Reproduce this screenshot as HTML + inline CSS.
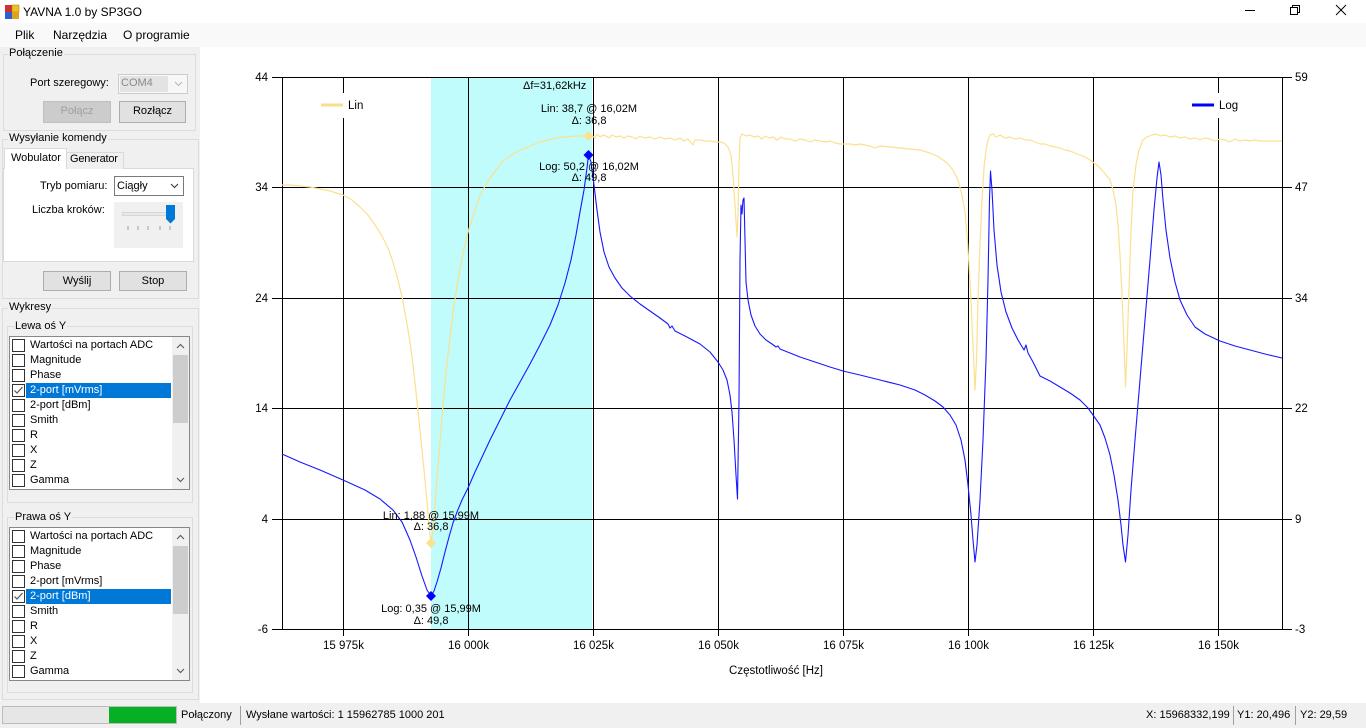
<!DOCTYPE html>
<html><head><meta charset="utf-8"><title>YAVNA 1.0 by SP3GO</title>
<style>
*{margin:0;padding:0;box-sizing:border-box}
html,body{width:1366px;height:728px;overflow:hidden}
body{position:relative;background:#f0f0f0;font-family:"Liberation Sans",Arial,sans-serif;font-size:11px;color:#000}
.t{position:absolute;white-space:nowrap;line-height:13px}
.grp{position:absolute;border:1px solid #dcdcdc}
.gl{position:absolute;background:#f0f0f0;padding:0 1px;line-height:13px;white-space:nowrap}
.btn{position:absolute;background:#e1e1e1;border:1px solid #adadad;text-align:center;line-height:19px}
.lb{position:absolute;left:9px;background:#fff;border:1px solid #828790;width:181px;height:154px}
.it{position:absolute;left:0;width:162px;height:15px;line-height:15px}
.cb{position:absolute;left:2px;top:1px;width:13px;height:13px;border:1px solid #333;background:#fff}
.it .tx{position:absolute;left:20px;top:0;white-space:nowrap}
.sel{position:absolute;left:16px;top:0;width:145px;height:15px;background:#0078d7}
.sb{position:absolute;left:162px;top:0;width:17px;height:152px;background:#f0f0f0}
.th{position:absolute;left:1px;top:18px;width:15px;height:68px;background:#cdcdcd}
</style></head><body>

<!-- title bar -->
<div style="position:absolute;left:0;top:0;width:1366px;height:23px;background:#fff"></div>
<svg style="position:absolute;left:4px;top:4px" width="16" height="16">
<rect x="1" y="1" width="7" height="7" fill="#d03030"/><rect x="8" y="1" width="7" height="7" fill="#f0c020" stroke="#a08010" stroke-width="0.5"/>
<rect x="1" y="8" width="7" height="7" fill="#3060d0"/><rect x="8" y="8" width="7" height="7" fill="#e0a020"/>
</svg>
<div class="t" style="left:23px;top:5px;font-size:12px;line-height:14px">YAVNA 1.0 by SP3GO</div>
<svg style="position:absolute;left:1240px;top:0" width="126" height="23">
<line x1="5" y1="10.5" x2="15" y2="10.5" stroke="#000" stroke-width="1"/>
<rect x="50.5" y="7.5" width="7" height="7" fill="none" stroke="#000"/>
<polyline points="52.5,7.5 52.5,5.5 59.5,5.5 59.5,12.5 57.5,12.5" fill="none" stroke="#000"/>
<line x1="96" y1="5" x2="106" y2="15" stroke="#000"/><line x1="106" y1="5" x2="96" y2="15" stroke="#000"/>
</svg>

<!-- menu -->
<div style="position:absolute;left:0;top:23px;width:1366px;height:24px;background:#f9f9f9"></div>
<div class="t" style="left:15px;top:28px;font-size:12px;line-height:14px">Plik</div>
<div class="t" style="left:53px;top:28px;font-size:12px;line-height:14px">Narzędzia</div>
<div class="t" style="left:123px;top:28px;font-size:12px;line-height:14px">O programie</div>

<!-- chart panel -->
<div style="position:absolute;left:200px;top:47px;width:1166px;height:656px;background:#fff"></div>

<!-- Połączenie -->
<div class="grp" style="left:3px;top:54px;width:193px;height:77px"></div>
<div class="gl" style="left:8px;top:47px">Połączenie</div>
<div class="t" style="left:30px;top:77px">Port szeregowy:</div>
<div style="position:absolute;left:118px;top:74px;width:70px;height:20px;background:#f7f7f7;border:1px solid #cccccc"></div>
<div style="position:absolute;left:120px;top:76px;width:48px;height:16px;background:#e3e3e3"></div>
<div class="t" style="left:121px;top:77px;color:#8a8a8a">COM4</div>
<svg style="position:absolute;left:174px;top:80px" width="10" height="8"><polyline points="1,2 4.5,5.5 8,2" fill="none" stroke="#b5b5b5"/></svg>
<div class="btn" style="left:43px;top:101px;width:68px;height:22px;background:#cccccc;border-color:#bfbfbf;color:#a0a0a0">Połącz</div>
<div class="btn" style="left:119px;top:101px;width:67px;height:22px">Rozłącz</div>

<!-- Wysyłanie komendy -->
<div class="grp" style="left:2px;top:139px;width:197px;height:160px"></div>
<div class="gl" style="left:8px;top:132px">Wysyłanie komendy</div>
<div style="position:absolute;left:3px;top:168px;width:191px;height:94px;background:#fff;border:1px solid #d9d9d9"></div>
<div style="position:absolute;left:66px;top:152px;width:58px;height:17px;background:#f0f0f0;border:1px solid #d9d9d9;border-bottom:none"></div>
<div class="t" style="left:70px;top:153px;letter-spacing:-0.2px">Generator</div>
<div style="position:absolute;left:4px;top:148px;width:63px;height:21px;background:#fff;border:1px solid #d9d9d9;border-bottom:none"></div>
<div class="t" style="left:11px;top:152px">Wobulator</div>
<div class="t" style="left:40px;top:180px">Tryb pomiaru:</div>
<div style="position:absolute;left:114px;top:176px;width:70px;height:20px;background:#fff;border:1px solid #7a7a7a"></div>
<div class="t" style="left:117px;top:180px">Ciągły</div>
<svg style="position:absolute;left:170px;top:182px" width="10" height="8"><polyline points="1,2 4.5,5.5 8,2" fill="none" stroke="#333"/></svg>
<div class="t" style="left:32px;top:204px">Liczba kroków:</div>
<div style="position:absolute;left:114px;top:202px;width:69px;height:46px;background:#f0f0f0"></div>
<svg style="position:absolute;left:114px;top:202px" width="69" height="46">
<rect x="8.5" y="10.5" width="51" height="3" fill="#e7eaea" stroke="#d6d6d6"/>
<g stroke="#a0a0a0"><line x1="14" y1="24" x2="14" y2="28"/><line x1="24" y1="24" x2="24" y2="28"/><line x1="34" y1="24" x2="34" y2="28"/><line x1="46" y1="24" x2="46" y2="28"/><line x1="56" y1="24" x2="56" y2="28"/></g>
<polygon points="52,3 61,3 61,17 56.5,21.5 52,17" fill="#0078d7"/>
</svg>
<div class="btn" style="left:43px;top:271px;width:68px;height:20px;line-height:18px">Wyślij</div>
<div class="btn" style="left:119px;top:271px;width:68px;height:20px;line-height:18px">Stop</div>

<!-- Wykresy -->
<div class="grp" style="left:2px;top:308px;width:197px;height:392px"></div>
<div class="gl" style="left:8px;top:301px">Wykresy</div>

<!-- Lewa oś Y -->
<div class="grp" style="left:7px;top:326px;width:186px;height:177px"></div>
<div class="gl" style="left:14px;top:320px">Lewa oś Y</div>
<div class="lb" style="top:336px">
 <div class="it" style="top:1px"><span class="cb"></span><span class="tx">Wartości na portach ADC</span></div>
 <div class="it" style="top:16px"><span class="cb"></span><span class="tx">Magnitude</span></div>
 <div class="it" style="top:31px"><span class="cb"></span><span class="tx">Phase</span></div>
 <div class="it" style="top:46px"><span class="sel"></span><span class="cb"><svg width="11" height="11" style="position:absolute;left:0;top:0"><polyline points="1.5,5.5 4,8 9.5,2" fill="none" stroke="#555" stroke-width="1.2"/></svg></span><span class="tx" style="color:#fff">2-port [mVrms]</span></div>
 <div class="it" style="top:61px"><span class="cb"></span><span class="tx">2-port [dBm]</span></div>
 <div class="it" style="top:76px"><span class="cb"></span><span class="tx">Smith</span></div>
 <div class="it" style="top:91px"><span class="cb"></span><span class="tx">R</span></div>
 <div class="it" style="top:106px"><span class="cb"></span><span class="tx">X</span></div>
 <div class="it" style="top:121px"><span class="cb"></span><span class="tx">Z</span></div>
 <div class="it" style="top:136px"><span class="cb"></span><span class="tx">Gamma</span></div>
 <div class="sb"><div class="th"></div>
  <svg width="17" height="152" style="position:absolute;left:0;top:0"><polyline points="5,11 8.5,7.5 12,11" fill="none" stroke="#606060" stroke-width="1.2"/><polyline points="5,141 8.5,144.5 12,141" fill="none" stroke="#606060" stroke-width="1.2"/></svg>
 </div>
</div>

<!-- Prawa oś Y -->
<div class="grp" style="left:7px;top:517px;width:186px;height:176px"></div>
<div class="gl" style="left:14px;top:511px">Prawa oś Y</div>
<div class="lb" style="top:527px">
 <div class="it" style="top:1px"><span class="cb"></span><span class="tx">Wartości na portach ADC</span></div>
 <div class="it" style="top:16px"><span class="cb"></span><span class="tx">Magnitude</span></div>
 <div class="it" style="top:31px"><span class="cb"></span><span class="tx">Phase</span></div>
 <div class="it" style="top:46px"><span class="cb"></span><span class="tx">2-port [mVrms]</span></div>
 <div class="it" style="top:61px"><span class="sel"></span><span class="cb"><svg width="11" height="11" style="position:absolute;left:0;top:0"><polyline points="1.5,5.5 4,8 9.5,2" fill="none" stroke="#555" stroke-width="1.2"/></svg></span><span class="tx" style="color:#fff">2-port [dBm]</span></div>
 <div class="it" style="top:76px"><span class="cb"></span><span class="tx">Smith</span></div>
 <div class="it" style="top:91px"><span class="cb"></span><span class="tx">R</span></div>
 <div class="it" style="top:106px"><span class="cb"></span><span class="tx">X</span></div>
 <div class="it" style="top:121px"><span class="cb"></span><span class="tx">Z</span></div>
 <div class="it" style="top:136px"><span class="cb"></span><span class="tx">Gamma</span></div>
 <div class="sb"><div class="th"></div>
  <svg width="17" height="152" style="position:absolute;left:0;top:0"><polyline points="5,11 8.5,7.5 12,11" fill="none" stroke="#606060" stroke-width="1.2"/><polyline points="5,141 8.5,144.5 12,141" fill="none" stroke="#606060" stroke-width="1.2"/></svg>
 </div>
</div>

<!-- status bar -->
<div style="position:absolute;left:0;top:703px;width:1366px;height:25px;background:#f0f0f0"></div>
<div style="position:absolute;left:2px;top:706px;width:175px;height:18px;background:#e6e6e6;border:1px solid #bcbcbc"></div>
<div style="position:absolute;left:109px;top:707px;width:67px;height:16px;background:#06b025"></div>
<div class="t" style="left:181px;top:709px">Połączony</div>
<div style="position:absolute;left:240px;top:706px;width:1px;height:19px;background:#a0a0a0"></div>
<div class="t" style="left:246px;top:709px">Wysłane wartości: 1 15962785 1000 201</div>
<div class="t" style="left:1146px;top:709px">X: 15968332,199</div>
<div style="position:absolute;left:1233px;top:706px;width:1px;height:19px;background:#a0a0a0"></div>
<div class="t" style="left:1237px;top:709px">Y1: 20,496</div>
<div style="position:absolute;left:1295px;top:706px;width:1px;height:19px;background:#a0a0a0"></div>
<div class="t" style="left:1300px;top:709px">Y2: 29,59</div>

<!-- chart -->
<svg style="position:absolute;left:0;top:0" width="1366" height="728" font-family="Liberation Sans, Arial, sans-serif">
<rect x="431" y="77" width="161" height="552" fill="#c0fcfc"/>
<g stroke="#000" stroke-width="1" fill="none">
<line x1="272" y1="77.5" x2="1292" y2="77.5"/>
<line x1="272" y1="187.5" x2="1292" y2="187.5"/>
<line x1="272" y1="298.5" x2="1292" y2="298.5"/>
<line x1="272" y1="408.5" x2="1292" y2="408.5"/>
<line x1="272" y1="519.5" x2="1292" y2="519.5"/>
<line x1="272" y1="629.5" x2="1292" y2="629.5"/>
<line x1="282.5" y1="77" x2="282.5" y2="629"/>
<line x1="1282.5" y1="77" x2="1282.5" y2="629"/>
<line x1="343.5" y1="77" x2="343.5" y2="636"/>
<line x1="468.5" y1="77" x2="468.5" y2="636"/>
<line x1="593.5" y1="77" x2="593.5" y2="636"/>
<line x1="718.5" y1="77" x2="718.5" y2="636"/>
<line x1="843.5" y1="77" x2="843.5" y2="636"/>
<line x1="968.5" y1="77" x2="968.5" y2="636"/>
<line x1="1093.5" y1="77" x2="1093.5" y2="636"/>
<line x1="1218.5" y1="77" x2="1218.5" y2="636"/>
</g>
<rect x="318" y="93" width="50" height="25" fill="#fff"/>
<rect x="1188" y="93" width="58" height="25" fill="#fff"/>
<line x1="321" y1="105" x2="343" y2="105" stroke="#f7df8c" stroke-width="3"/>
<text x="348" y="109" font-size="11.5">Lin</text>
<line x1="1192" y1="105" x2="1214" y2="105" stroke="#0000ff" stroke-width="3"/>
<text x="1219" y="109" font-size="11.5">Log</text>

<polyline fill="none" stroke="#1818ff" stroke-width="1.1" stroke-linejoin="round" points="282,454 300,462 320,470 343,480 365,490 380,499 393,510 402,522 410,540 416,557 422,576 427,590 431,596 434,591 437,582 441,568 445,552 449,537 453,523 457,512 462,500 468,488 475,472 483,455 490,440 500,420 510,400 520,382 530,364 540,345 550,325 558,305 565,283 571,260 576,235 580,212 584,190 587,168 588.5,155 591,162 594,185 597,210 600,232 604,252 609,267 615,278 622,288 630,296 640,304 650,311 660,318 668,324 670,328 672,326 675,331 685,336 700,344 710,352 718,362 723,370 727,380 730,395 732,412 734,440 736,475 737.5,499 739,400 740,260 741,205 742,214 743,200 744,198 745,240 746,282 748,300 751,315 755,326 760,334 766,340 772,344 776,347 778,346 780,349 790,353 800,357 815,362 830,367 843,371 860,375 880,380 900,385 915,390 925,395 935,401 943,407 950,415 956,425 961,440 965,460 968,485 971,515 973,540 975,562 977,545 980,500 983,440 986,360 988,280 989.5,200 990.5,171 992,190 994,230 997,265 1001,292 1006,312 1012,328 1018,340 1024,350 1026,345 1028,353 1033,362 1040,376 1050,381 1060,387 1070,393 1080,400 1088,408 1093,415 1100,425 1105,438 1110,455 1114,475 1118,500 1121,525 1123,545 1125.5,562 1128,535 1131,490 1135,440 1140,380 1145,320 1150,260 1154,210 1157,178 1159,162 1161,175 1163,200 1166,230 1170,258 1175,282 1180,300 1187,315 1195,327 1205,334 1220,341 1235,346 1250,350 1265,354 1282,358"/>

<polyline fill="none" stroke="#fbe08e" stroke-width="1.2" stroke-linejoin="round" points="282,185 290,185 300,186 310,187 320,189 330,191 343,195 352,200 360,207 368,215 375,225 382,236 388,248 393,262 398,280 402,297 406,318 410,342 413,365 416,392 419,420 422,450 425,480 427,502 429,525 431,543 433,530 435,505 437,478 440,442 443,405 446,372 450,338 454,305 458,280 462,258 466,240 470,225 475,210 480,196 485,186 490,178 496,170 503,161 510,156 518,151 525,148 532,145 540,142 548,140 556,138 565,137 575,136 582,136 588,135 592,136 595,138 597,134 600,137 603,135 606,136 609,138 612,135 616,137 620,136 624,138 628,136 632,137 636,139 640,136 645,138 650,137 655,139 660,137 665,139 670,138 675,140 680,138 684,141 688,139 693,145 695,140 700,140 705,141 710,141 715,142 720,142 724,143 728,147 731,155 733,175 735,205 737,237 738,215 739,165 740,138 742,134 746,136 750,135 754,137 758,136 762,139 765,136 769,138 773,137 777,140 781,137 785,139 790,139 795,141 800,139 805,140 810,142 815,140 820,141 826,142 830,141 835,143 840,144 845,144 850,144 855,145 860,144 865,145 870,146 875,148 880,146 890,147 900,148 910,149 920,150 930,153 937,156 943,160 948,164 953,170 958,180 962,195 965,212 967,235 969,265 971,300 973,345 975,390 976.5,360 978,300 980,245 982,200 984,168 986,150 988,140 990,135 993,134 996,137 1000,135 1005,138 1010,137 1015,139 1020,138 1025,140 1030,140 1035,142 1040,144 1045,144 1050,146 1055,147 1060,148 1065,150 1070,151 1075,153 1080,155 1085,157 1090,160 1094,163 1098,166 1102,170 1106,175 1110,180 1113,190 1116,205 1118,225 1120,255 1122,295 1124,345 1125.5,387 1127,350 1129,290 1131,230 1133,190 1136,165 1139,150 1143,140 1147,137 1152,135 1156,134 1160,136 1165,135 1170,137 1175,136 1180,138 1185,137 1190,139 1195,138 1200,140 1205,138 1210,139 1215,141 1220,139 1225,140 1230,142 1235,139 1240,141 1245,140 1250,141 1255,140 1260,141 1270,141 1282,141"/>

<polygon points="431,538 436,543 431,548 426,543" fill="#fbe08e"/>
<polygon points="588.5,131 593.5,136 588.5,141 583.5,136" fill="#fbe08e"/>
<polygon points="431,591 436,596 431,601 426,596" fill="#0000ff"/>
<polygon points="588.5,150 593.5,155 588.5,160 583.5,155" fill="#0000ff"/>

<g font-size="11" fill="#000">
<text x="523" y="89">Δf=31,62kHz</text>
<text x="589" y="112" text-anchor="middle">Lin: 38,7 @ 16,02M</text>
<text x="589" y="124" text-anchor="middle">Δ: 36,8</text>
<text x="589" y="170" text-anchor="middle">Log: 50,2 @ 16,02M</text>
<text x="589" y="181" text-anchor="middle">Δ: 49,8</text>
<text x="431" y="519" text-anchor="middle">Lin: 1,88 @ 15,99M</text>
<text x="431" y="530" text-anchor="middle">Δ: 36,8</text>
<text x="431" y="612" text-anchor="middle">Log: 0,35 @ 15,99M</text>
<text x="431" y="624" text-anchor="middle">Δ: 49,8</text>
</g>

<g font-size="11.5" fill="#000" text-anchor="end">
<text x="268" y="81">44</text>
<text x="268" y="191">34</text>
<text x="268" y="302">24</text>
<text x="268" y="412">14</text>
<text x="268" y="523">4</text>
<text x="268" y="633">-6</text>
</g>
<g font-size="11.5" fill="#000">
<text x="1295" y="81">59</text>
<text x="1295" y="191">47</text>
<text x="1295" y="302">34</text>
<text x="1295" y="412">22</text>
<text x="1295" y="523">9</text>
<text x="1295" y="633">-3</text>
</g>
<g font-size="11.5" fill="#000" text-anchor="middle">
<text x="343.5" y="649">15 975k</text>
<text x="468.5" y="649">16 000k</text>
<text x="593.5" y="649">16 025k</text>
<text x="718.5" y="649">16 050k</text>
<text x="843.5" y="649">16 075k</text>
<text x="968.5" y="649">16 100k</text>
<text x="1093.5" y="649">16 125k</text>
<text x="1218.5" y="649">16 150k</text>
<text x="776" y="674" font-size="11.5">Częstotliwość [Hz]</text>
</g>
</svg>
</body></html>
